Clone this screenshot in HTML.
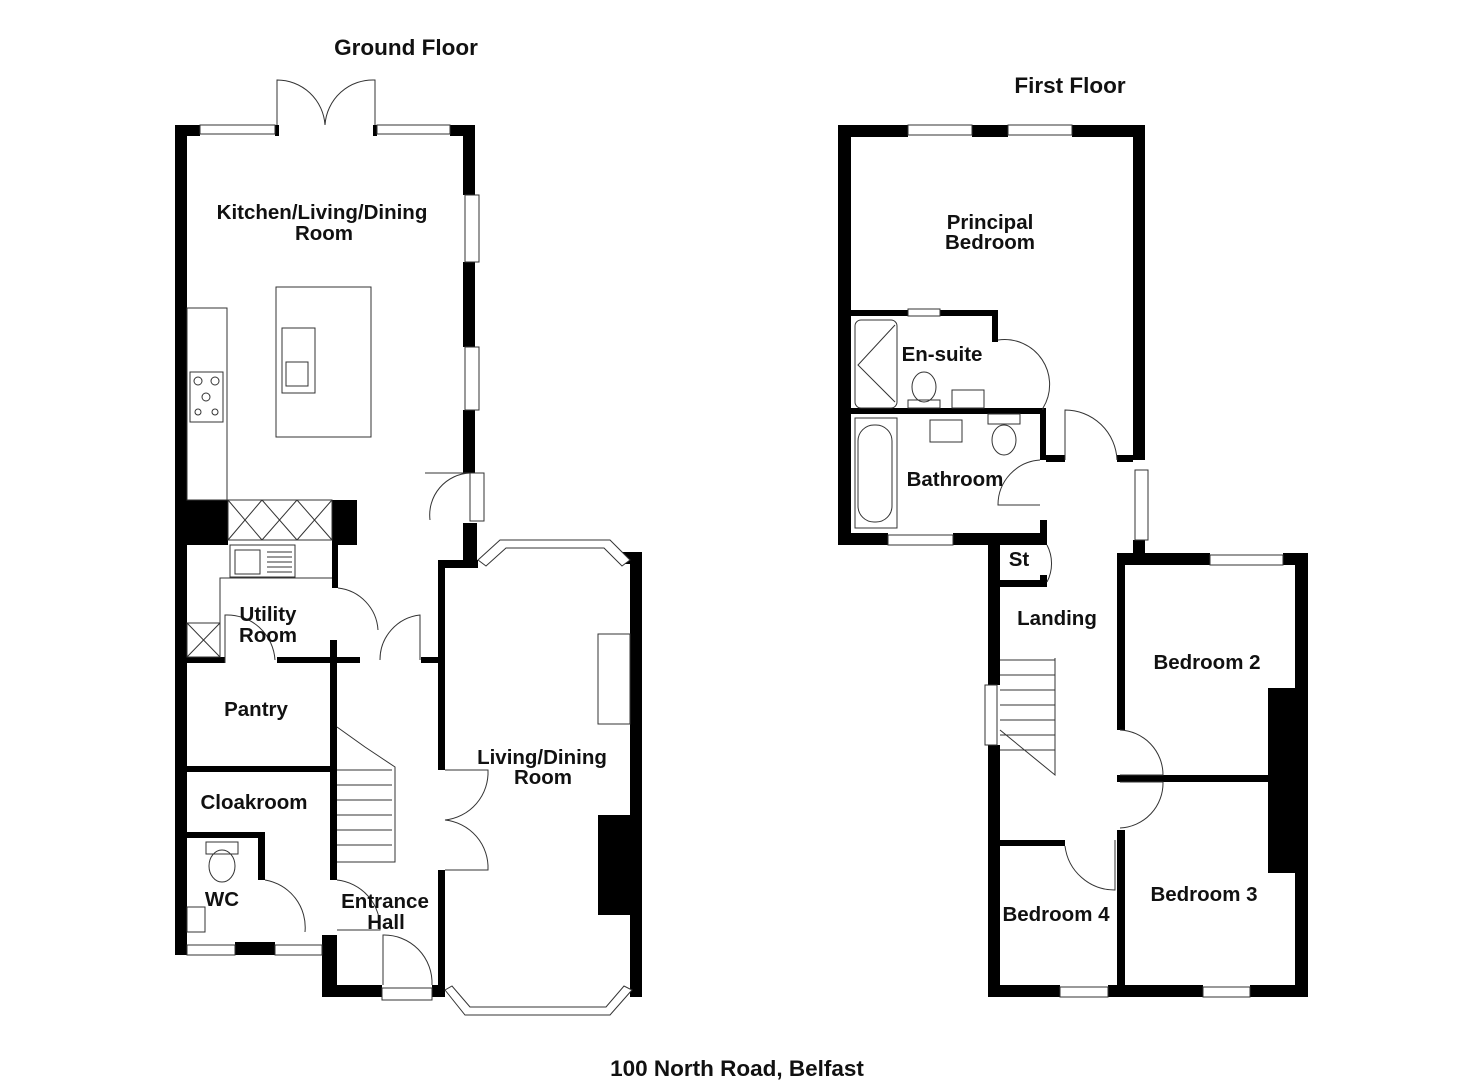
<!DOCTYPE html>
<html><head><meta charset="utf-8"><style>
html,body{margin:0;padding:0;background:#fff}
svg{display:block}
text{font-family:"Liberation Sans",Arial,sans-serif;font-weight:bold;font-size:20.5px;fill:#111;text-anchor:middle}
.h{font-size:22.5px}
.t{fill:none;stroke:#333;stroke-width:1}
.w{fill:#fff;stroke:#333;stroke-width:1}
</style></head><body>
<svg width="1484" height="1080" viewBox="0 0 1484 1080">
<text class="h" x="406" y="55">Ground Floor</text>
<text class="h" x="1070" y="93">First Floor</text>
<text class="h" x="737" y="1076">100 North Road, Belfast</text>

<!-- ===== GROUND FLOOR walls ===== -->
<g fill="#000">
<rect x="175" y="125" width="25" height="11"/>
<rect x="275" y="125" width="4" height="11"/>
<rect x="373" y="125" width="4" height="11"/>
<rect x="450" y="125" width="25" height="11"/>
<rect x="175" y="125" width="12" height="830"/>
<rect x="463" y="125" width="12" height="70"/>
<rect x="463" y="262" width="12" height="85"/>
<rect x="463" y="410" width="12" height="63"/>
<rect x="463" y="523" width="14" height="38"/>
<rect x="175" y="500" width="53" height="45"/>
<rect x="332" y="500" width="25" height="45"/>
<rect x="332" y="545" width="6" height="43"/>
<rect x="187" y="657" width="38" height="6"/>
<rect x="277" y="657" width="83" height="6"/>
<rect x="421" y="657" width="17" height="6"/>
<rect x="330" y="640" width="7" height="240"/>
<rect x="187" y="766" width="143" height="6"/>
<rect x="187" y="832" width="78" height="6"/>
<rect x="258" y="832" width="7" height="48"/>
<rect x="175" y="945" width="12" height="10"/>
<rect x="235" y="942" width="40" height="13"/>
<rect x="322" y="935" width="15" height="62"/>
<rect x="322" y="985" width="60" height="12"/>
<rect x="432" y="985" width="13" height="12"/>
<rect x="438" y="560" width="7" height="210"/>
<rect x="438" y="870" width="7" height="127"/>
<rect x="438" y="560" width="40" height="8"/>
<rect x="620" y="552" width="22" height="12"/>
<rect x="630" y="552" width="12" height="445"/>
<rect x="598" y="815" width="32" height="100"/>
</g>
<!-- windows -->
<g class="w">
<rect x="200" y="125" width="75" height="9"/><rect x="377" y="125" width="73" height="9"/>
<rect x="465" y="195" width="14" height="67"/><rect x="465" y="347" width="14" height="63"/>
<rect x="470" y="473" width="14" height="48"/>
<rect x="187" y="945" width="48" height="10"/><rect x="275" y="945" width="47" height="10"/>
<rect x="382" y="988" width="50" height="12"/>
<polygon points="478,560 500,540 610,540 630,560 622,566 604,548 506,548 486,566"/>
<polygon points="445,990 465,1015 610,1015 632,990 624,986 606,1007 470,1007 452,986"/>
</g>
<!-- doors -->
<g class="t">
<path d="M277 125 L277 80 A48 48 0 0 1 325 125 M375 125 L375 80 A48 48 0 0 0 325 125"/>
<path d="M425 473 L470 473 M470 473 A42 42 0 0 0 430 520"/>
<path d="M338 588 A45 45 0 0 1 378 630 M380 660 A45 45 0 0 1 420 615 L420 660"/>
<path d="M225 663 L225 615 A48 48 0 0 1 275 660"/>
<path d="M445 770 L488 770 A48 48 0 0 1 445 820 A48 48 0 0 1 488 870 L445 870"/>
<path d="M265 880 A48 48 0 0 1 305 932"/>
<path d="M383 985 L383 935 A48 48 0 0 1 432 985"/>
<path d="M337 880 A48 48 0 0 1 380 930 L337 930"/>
</g>
<!-- fittings -->
<g class="t">
<rect x="187" y="308" width="40" height="192"/>
<rect x="190" y="372" width="33" height="50"/>
<circle cx="198" cy="381" r="4"/><circle cx="215" cy="381" r="4"/><circle cx="206" cy="397" r="4"/><circle cx="198" cy="412" r="3"/><circle cx="215" cy="412" r="3"/>
<rect x="276" y="287" width="95" height="150"/>
<rect x="282" y="328" width="33" height="65"/><rect x="286" y="362" width="22" height="24"/>
<rect x="228" y="500" width="104" height="40"/>
<path d="M228 500 L262 540 M262 500 L228 540 M262 500 L297 540 M297 500 L262 540 M297 500 L332 540 M332 500 L297 540"/>
<rect x="230" y="545" width="65" height="32"/><rect x="235" y="550" width="25" height="24"/>
<path d="M267 552 H292 M267 557 H292 M267 562 H292 M267 567 H292 M267 572 H292"/>
<path d="M220 657 L220 578 L332 578"/>
<rect x="187" y="623" width="33" height="34"/><path d="M187 623 L220 657 M220 623 L187 657"/>
<rect x="598" y="634" width="32" height="90"/>
<path d="M337 727 L365 747 L395 767 L395 862 L337 862 M337 770 H392 M337 785 H392 M337 800 H392 M337 815 H392 M337 830 H392 M337 845 H392"/>
<rect x="206" y="842" width="32" height="12"/><ellipse cx="222" cy="866" rx="13" ry="16"/>
<rect x="187" y="907" width="18" height="25"/>
</g>

<!-- ===== FIRST FLOOR walls ===== -->
<g fill="#000">
<rect x="838" y="125" width="70" height="12"/>
<rect x="972" y="125" width="36" height="12"/>
<rect x="1072" y="125" width="73" height="12"/>
<rect x="838" y="125" width="13" height="420"/>
<rect x="1133" y="125" width="12" height="335"/>
<rect x="1133" y="540" width="12" height="15"/>
<rect x="851" y="310" width="57" height="6"/>
<rect x="940" y="310" width="58" height="6"/>
<rect x="992" y="310" width="6" height="32"/>
<rect x="851" y="408" width="195" height="6"/>
<rect x="1040" y="408" width="6" height="52"/>
<rect x="1040" y="520" width="7" height="25"/>
<rect x="1046" y="455" width="19" height="7"/>
<rect x="1117" y="455" width="16" height="7"/>
<rect x="838" y="533" width="50" height="12"/>
<rect x="953" y="533" width="93" height="12"/>
<rect x="988" y="540" width="12" height="145"/>
<rect x="988" y="745" width="12" height="252"/>
<rect x="1000" y="580" width="45" height="7"/>
<rect x="1040" y="575" width="7" height="12"/>
<rect x="1117" y="553" width="93" height="12"/>
<rect x="1283" y="553" width="25" height="12"/>
<rect x="1117" y="553" width="8" height="177"/>
<rect x="1117" y="775" width="151" height="7"/>
<rect x="1117" y="830" width="8" height="167"/>
<rect x="1000" y="840" width="65" height="6"/>
<rect x="1295" y="553" width="13" height="444"/>
<rect x="1268" y="688" width="27" height="185"/>
<rect x="988" y="985" width="72" height="12"/>
<rect x="1108" y="985" width="95" height="12"/>
<rect x="1250" y="985" width="58" height="12"/>
</g>
<g class="w">
<rect x="908" y="125" width="64" height="10"/><rect x="1008" y="125" width="64" height="10"/>
<rect x="908" y="309" width="32" height="7"/>
<rect x="1135" y="470" width="13" height="70"/>
<rect x="888" y="535" width="65" height="10"/>
<rect x="985" y="685" width="12" height="60"/>
<rect x="1210" y="555" width="73" height="10"/>
<rect x="1060" y="987" width="48" height="10"/><rect x="1203" y="987" width="47" height="10"/>
</g>
<g class="t">
<path d="M998 340 A45 45 0 0 1 1043 408 L1043 410"/>
<path d="M1065 460 L1065 410 A52 52 0 0 1 1117 460"/>
<path d="M1040 460 A45 45 0 0 0 998 505 L1040 505"/>
<path d="M1047 545 A40 40 0 0 1 1047 582"/>
<path d="M1120 730 A45 45 0 0 1 1163 775 L1120 775 M1120 782 L1163 782 A45 45 0 0 1 1120 828"/>
<path d="M1065 846 A50 50 0 0 0 1115 890 L1115 840"/>
<rect x="855" y="320" width="42" height="88" rx="6"/><path d="M895 325 L858 365 L895 402"/>
<ellipse cx="924" cy="387" rx="12" ry="15"/><rect x="908" y="400" width="32" height="8"/>
<rect x="952" y="390" width="32" height="18"/>
<rect x="855" y="418" width="42" height="110"/><rect x="858" y="425" width="34" height="97" rx="16"/>
<rect x="930" y="420" width="32" height="22"/>
<rect x="988" y="414" width="32" height="10"/><ellipse cx="1004" cy="440" rx="12" ry="15"/>
<path d="M1000 660 H1055 M1000 675 H1055 M1000 690 H1055 M1000 705 H1055 M1000 720 H1055 M1000 735 H1055 M1000 750 H1055 M1055 658 L1055 775 L1000 730"/>
</g>

<!-- labels -->
<text x="322" y="219">Kitchen/Living/Dining</text>
<text x="324" y="240">Room</text>
<text x="268" y="621">Utility</text>
<text x="268" y="642">Room</text>
<text x="256" y="716">Pantry</text>
<text x="254" y="809">Cloakroom</text>
<text x="222" y="906">WC</text>
<text x="385" y="908">Entrance</text>
<text x="386" y="929">Hall</text>
<text x="542" y="764">Living/Dining</text>
<text x="543" y="784">Room</text>
<text x="990" y="229">Principal</text>
<text x="990" y="249">Bedroom</text>
<text x="942" y="361">En-suite</text>
<text x="955" y="486">Bathroom</text>
<text x="1019" y="566">St</text>
<text x="1057" y="625">Landing</text>
<text x="1207" y="669">Bedroom 2</text>
<text x="1204" y="901">Bedroom 3</text>
<text x="1056" y="921">Bedroom 4</text>
</svg>
</body></html>
